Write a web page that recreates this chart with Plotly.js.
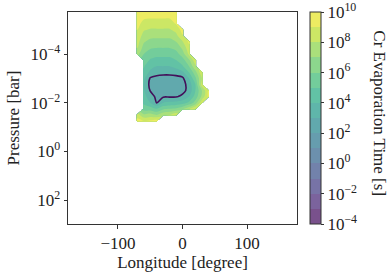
<!DOCTYPE html>
<html><head><meta charset="utf-8">
<script src="https://cdn.plot.ly/plotly-3.0.1.min.js"></script>
<style>html,body{margin:0;padding:0;background:#fff}#chart{width:391px;height:275px}</style>
</head><body><div id="chart"></div>
<script>
// ---- data ----
const longitude = [-80,-70,-60,-50,-40,-30,-20,-10,0,10,20,30,40,50];
const pressure = [1.0e-6,1.78e-6,3.16e-6,5.62e-6,1.0e-5,1.78e-5,3.16e-5,5.62e-5,1.0e-4,1.78e-4,3.16e-4,5.62e-4,1.0e-3,1.78e-3,3.16e-3,5.62e-3,1.0e-2,1.78e-2,3.16e-2,5.62e-2,1.0e-1];
const n = null;
// log10 of Cr evaporation time [s]; rows follow `pressure`, columns follow `longitude`
const logEvapTime = [
  [n, 11.0, 10.6, 10.5, 10.5, 10.5, 10.6, n, n, n, n, n, n, n],
  [n, 10.3, 9.9, 9.8, 9.8, 9.8, 9.8, 10.0, n, n, n, n, n, n],
  [n, 9.8, 9.2, 9.1, 9.1, 9.1, 9.1, 9.5, n, n, n, n, n, n],
  [n, 9.4, 8.6, 8.5, 8.5, 8.5, 8.5, 9.1, n, n, n, n, n, n],
  [n, 9.0, 8.1, 7.9, 7.9, 7.9, 7.9, 8.3, 9.4, n, n, n, n, n],
  [n, 8.7, 7.6, 7.3, 7.3, 7.3, 7.3, 7.7, 8.9, n, n, n, n, n],
  [n, 8.4, 7.1, 6.7, 6.6, 6.6, 6.6, 7.0, 7.9, 9.2, n, n, n, n],
  [n, 8.0, 6.6, 6.1, 6.0, 6.0, 6.0, 6.3, 7.2, 8.6, n, n, n, n],
  [n, 7.4, 6.0, 5.5, 5.3, 5.3, 5.3, 5.6, 6.5, 8.2, n, n, n, n],
  [n, n, 5.6, 4.9, 4.7, 4.7, 4.7, 5.0, 5.6, 6.8, 8.7, n, n, n],
  [n, n, 5.1, 4.3, 4.0, 4.0, 4.0, 4.3, 4.9, 6.0, 7.8, n, n, n],
  [n, n, 4.7, 3.8, 3.5, 3.4, 3.4, 3.5, 3.8, 5.0, 6.6, 8.8, n, n],
  [n, n, 4.2, 2.9, 2.6, 2.5, 2.5, 2.6, 2.8, 4.0, 5.8, 8.0, n, n],
  [n, n, 4.0, 2.7, 2.4, 2.3, 2.3, 2.4, 2.6, 3.4, 5.0, 8.5, n, n],
  [n, n, 4.1, 2.95, 2.5, 2.4, 2.4, 2.5, 2.7, 3.3, 5.0, 7.0, 9.0, n],
  [n, n, 4.4, 3.4, 2.8, 2.9, 2.9, 2.9, 3.2, 4.0, 5.4, 7.2, 9.2, n],
  [n, n, 4.8, 4.0, 2.95, 4.0, 4.2, 4.3, 4.5, 5.2, 6.4, 8.8, n, n],
  [n, n, 5.5, 5.5, 5.0, 5.8, 6.0, 6.2, 6.8, 7.8, 9.0, n, n, n],
  [n, 8.5, 7.2, 7.4, 7.0, 7.8, 8.0, 8.8, n, n, n, n, n, n],
  [n, 9.4, 9.0, 9.2, 9.5, n, n, n, n, n, n, n, n, n],
  [n, n, n, n, n, n, n, n, n, n, n, n, n, n]
];
const outlineLevel = 3;            // log10 time of the highlighted contour
const colorbarRange = [-4, 10];    // log10 seconds
const colorbarTickExponents = [-4,-2,0,2,4,6,8,10];
const yTickExponents = [-4,-2,0,2];
const xTickValues = [-100,0,100];

// ---- style ----
const VIRIDIS = [[68,1,84],[72,36,117],[65,68,135],[53,95,141],[42,120,142],[33,145,140],[34,168,132],[68,191,112],[122,209,81],[189,223,38],[253,231,37]];
function viridis(t){ const s=Math.max(0,Math.min(1,t))*10; const i=Math.min(9,Math.floor(s)); const f=s-i; const a=VIRIDIS[i], b=VIRIDIS[i+1]; return a.map((v,k)=>v+(b[k]-v)*f); }
const ALPHA = 0.72;
function faded(t){ const c=viridis(t); return 'rgb('+c.map(v=>Math.round(v*ALPHA+255*(1-ALPHA))).join(',')+')'; }
const nBands = colorbarRange[1] - colorbarRange[0];
// colorscale for the contour fill (Plotly samples band centres)
const fillScale = [];
for(let k=0;k<nBands;k++){ fillScale.push([k/(nBands-1), faded((k+0.5)/nBands)]); }
// stepped colorscale for the colorbar
const barScale = [];
for(let k=0;k<nBands;k++){ barScale.push([k/nBands, faded((k+0.5)/nBands)]); barScale.push([(k+1)/nBands, faded((k+0.5)/nBands)]); }

const FONT = 'Liberation Serif, Times New Roman, serif';
const TXT = '#222';
const sup = e => '10<sup>' + (e<0 ? '\u2212' + (-e) : e) + '</sup>';

const fill = {
  type:'contour', x: longitude, y: pressure, z: logEvapTime,
  autocontour:false,
  contours:{start:colorbarRange[0]+1, end:colorbarRange[1]-1, size:1, coloring:'fill', showlines:false},
  line:{width:0, smoothing:0.8},
  colorscale: fillScale, showscale:false,
  hoverinfo:'skip'
};
const outline = {
  type:'contour', x: longitude, y: pressure, z: logEvapTime,
  autocontour:false,
  contours:{start:outlineLevel, end:outlineLevel, size:1, coloring:'none'},
  line:{color:'#43105a', width:1.6, smoothing:0.8},
  showscale:false, hoverinfo:'skip'
};
// colour key only (no marks drawn: coordinates are empty)
const key = {
  type:'scatter', mode:'markers', x:[null, null], y:[null, null],
  hoverinfo:'skip',
  marker:{
    color: colorbarRange, cmin:colorbarRange[0], cmax:colorbarRange[1], cauto:false,
    colorscale: barScale, showscale:true, size:1,
    colorbar:{
      thickness:11, thicknessmode:'pixels', len:1, lenmode:'fraction',
      x:1.057, xanchor:'left', xpad:0, y:0.5, yanchor:'middle', ypad:0,
      outlinewidth:1, outlinecolor:'#333',
      tickmode:'array', tickvals:colorbarTickExponents, ticktext:colorbarTickExponents.map(sup),
      ticks:'outside', ticklen:3, tickcolor:'#333', ticklabeloverflow:'allow',
      tickfont:{family:FONT, size:17, color:TXT}
    }
  }
};

const axisCommon = {
  ticks:'outside', ticklen:3.5, tickcolor:'#333', tickwidth:1,
  showline:true, mirror:true, linecolor:'#333', linewidth:1,
  showgrid:false, zeroline:false,
  tickfont:{family:FONT, size:17, color:TXT}
};
const layout = {
  width:391, height:275,
  margin:{l:68, r:94, t:12, b:51},
  paper_bgcolor:'#fff', plot_bgcolor:'#fff',
  font:{family:FONT, size:17, color:TXT},
  showlegend:false,
  xaxis:Object.assign({}, axisCommon, {
    range:[-177.5,177.5], tickmode:'array', tickvals:xTickValues,
    ticktext:xTickValues.map(v => v<0 ? '\u2212'+(-v) : String(v)),
    title:{text:'Longitude [degree]', standoff:3, font:{family:FONT, size:17, color:TXT}}
  }),
  yaxis:Object.assign({}, axisCommon, {
    type:'log', range:[2.98,-5.725], tickmode:'array',
    tickvals:yTickExponents.map(e => Math.pow(10,e)), ticktext:yTickExponents.map(sup),
    title:{text:'Pressure [bar]', standoff:6, font:{family:FONT, size:17, color:TXT}}
  }),
  annotations:[{
    text:'Cr Evaporation Time [s]', textangle:90, showarrow:false,
    xref:'paper', yref:'paper', x:1.36, y:0.52, xanchor:'center', yanchor:'middle',
    font:{family:FONT, size:17, color:TXT}
  }]
};
Plotly.newPlot('chart', [fill, outline, key], layout, {staticPlot:true, displayModeBar:false});
</script></body></html>
